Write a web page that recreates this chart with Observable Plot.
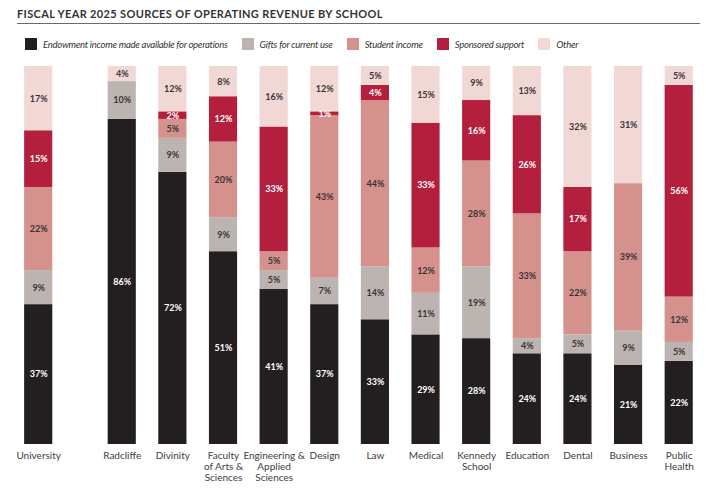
<!DOCTYPE html>
<html>
<head>
<meta charset="utf-8">
<script src="https://cdn.jsdelivr.net/npm/d3@7"></script>
<script src="https://cdn.jsdelivr.net/npm/@observablehq/plot@0.6"></script>
<style>
  body { margin: 0; background: #fff; width: 720px; height: 491px; position: relative; overflow: hidden; font-family: Lato, "Open Sans", sans-serif; }
  #title { position: absolute; left: 17px; top: 7px; width: 683px; border-bottom: 1.3px solid #6a6a6a; font-size: 11px; line-height: 13px; font-weight: 700; letter-spacing: 0.35px; color: #333; padding-bottom: 3px; white-space: nowrap; }
  #legend { position: absolute; left: 25px; top: 38px; display: flex; align-items: center; height: 12px; }
  #legend .item { display: flex; align-items: center; margin-right: 14px; }
  #legend .sw { width: 12px; height: 12px; margin-right: 6px; }
  #legend .lab { font-style: italic; font-size: 9.5px; letter-spacing: -0.25px; color: #333; white-space: nowrap; }
  #chart { position: absolute; left: 0; top: 56px; }
</style>
</head>
<body>
<div id="title">FISCAL YEAR 2025 SOURCES OF OPERATING REVENUE BY SCHOOL</div>
<div id="legend"></div>
<div id="chart"></div>
<script>
// Schools, left to right (University total is set apart from the individual schools)
const schools = ["University", "Radcliffe", "Divinity", "Faculty\nof Arts &\nSciences", "Engineering &\nApplied\nSciences", "Design", "Law", "Medical", "Kennedy\nSchool", "Education", "Dental", "Business", "Public\nHealth"];

// Revenue sources, bottom to top of each stack
const sources = ["Endowment income made available for operations", "Gifts for current use", "Student income", "Sponsored support", "Other"];
const colors = ["#231f20", "#bcb4b1", "#d5918c", "#b41f3d", "#f2d8d5"];

// Share of operating revenue (%) per school
const endowment = [37, 86, 72, 51, 41, 37, 33, 29, 28, 24, 24, 21, 22];
const gifts     = [ 9, 10,  9,  9,  5,  7, 14, 11, 19,  4,  5,  9,  5];
const student   = [22,  0,  5, 20,  5, 43, 44, 12, 28, 33, 22, 39, 12];
const sponsored = [15,  0,  2, 12, 33,  1,  4, 33, 16, 26, 17,  0, 56];
const other     = [17,  4, 12,  8, 16, 12,  5, 15,  9, 13, 32, 31,  5];

const series = [endowment, gifts, student, sponsored, other];

// Slot position along x: the University column is followed by a wider gap
const gap = 0.65;
const slot = i => (i === 0 ? 0 : i + gap);
const half = 0.278;

// Stacked segments
const rows = [];
schools.forEach((school, i) => {
  let base = 0;
  series.forEach((vals, s) => {
    const v = vals[i];
    rows.push({school, i, source: sources[s], s, value: v, y1: base, y2: base + v});
    base += v;
  });
});
const shown = rows.filter(d => d.value > 0);

// Legend
const legend = document.getElementById("legend");
sources.forEach((name, s) => {
  const item = document.createElement("div");
  item.className = "item";
  item.innerHTML = `<div class="sw" style="background:${colors[s]}"></div><div class="lab">${name}</div>`;
  legend.appendChild(item);
});

const chart = Plot.plot({
  width: 720,
  height: 435,
  marginTop: 10,
  marginBottom: 47,
  marginLeft: 0,
  marginRight: 0,
  x: {type: "linear", domain: [0, slot(schools.length - 1)], range: [38.2, 678.7], axis: null},
  y: {domain: [0, 100], axis: null},
  color: {domain: sources, range: colors},
  style: {fontFamily: "Lato, 'Open Sans', sans-serif", background: "#fff"},
  marks: [
    Plot.rect(shown, {
      x1: d => slot(d.i) - half,
      x2: d => slot(d.i) + half,
      y1: "y1",
      y2: "y2",
      fill: "source"
    }),
    Plot.text(shown, {
      x: d => slot(d.i),
      y: d => (d.y1 + d.y2) / 2,
      text: d => `${d.value}%`,
      fill: d => (d.s === 0 || d.s === 3) ? "#ffffff" : "#3a3434",
      fontSize: 9,
      fontWeight: 700
    }),
    Plot.text(schools, {
      x: (d, i) => slot(i),
      y: 0,
      text: d => d,
      lineAnchor: "top",
      dy: 7,
      lineHeight: 1.08,
      fontSize: 10,
      fill: "#3d3d3d"
    })
  ]
});
document.getElementById("chart").appendChild(chart);
</script>
</body>
</html>
